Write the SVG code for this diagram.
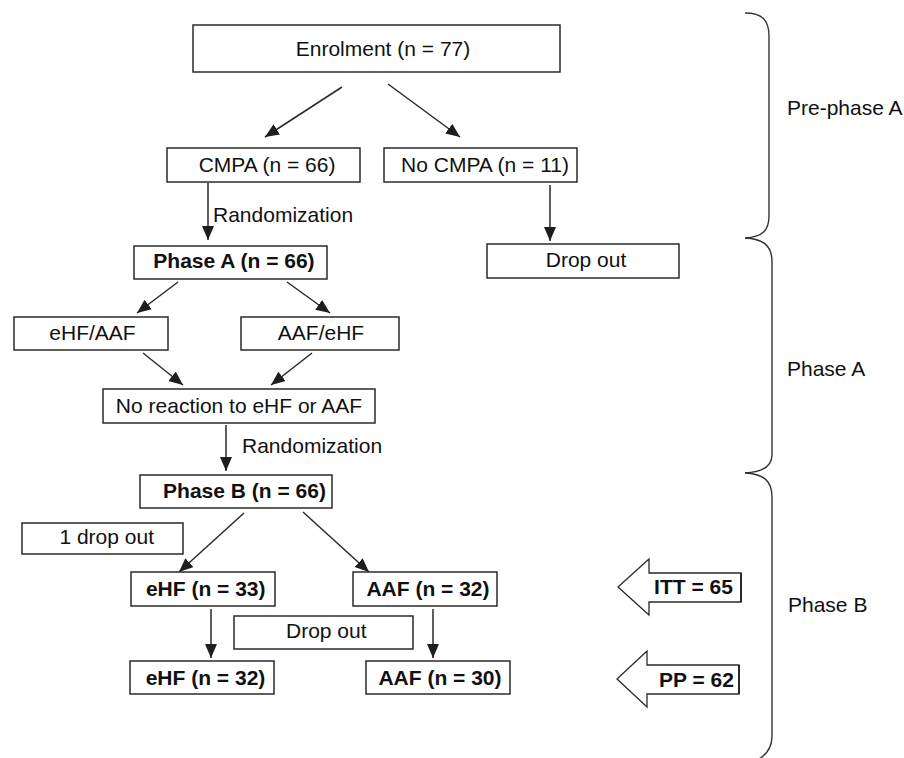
<svg xmlns="http://www.w3.org/2000/svg" width="904" height="758" viewBox="0 0 904 758">
<defs>
<style>
.box{fill:#fff;stroke:#2a2a2a;stroke-width:1.5}
.t{font-family:"Liberation Sans",Arial,Helvetica,sans-serif;font-size:21px;fill:#111;text-anchor:middle}
.b{font-weight:bold}
.s{text-anchor:start}
.ln{stroke:#2a2a2a;stroke-width:1.5;fill:none}
.br{stroke:#333;stroke-width:1.4;fill:none}
.fat{fill:#fff;stroke:#2a2a2a;stroke-width:1.3}
</style>
<marker id="ah" markerUnits="userSpaceOnUse" markerWidth="15" markerHeight="13" refX="14" refY="6" orient="auto">
<path d="M0,0 L14,6 L0,12 z" fill="#1e1e1e"/>
</marker>
</defs>
<rect width="904" height="758" fill="#fff"/>

<g id="connectors">
<line class="ln" x1="342" y1="87" x2="265" y2="137" marker-end="url(#ah)"/>
<line class="ln" x1="388" y1="84" x2="460" y2="137" marker-end="url(#ah)"/>
<line class="ln" x1="208" y1="183" x2="208" y2="240" marker-end="url(#ah)"/>
<line class="ln" x1="550" y1="185" x2="550" y2="241" marker-end="url(#ah)"/>
<line class="ln" x1="178" y1="282" x2="137" y2="313" marker-end="url(#ah)"/>
<line class="ln" x1="287" y1="282" x2="330" y2="313" marker-end="url(#ah)"/>
<line class="ln" x1="143" y1="353" x2="183" y2="385" marker-end="url(#ah)"/>
<line class="ln" x1="312" y1="353" x2="271" y2="385" marker-end="url(#ah)"/>
<line class="ln" x1="226" y1="425" x2="226" y2="471" marker-end="url(#ah)"/>
<line class="ln" x1="244" y1="513" x2="179" y2="572" marker-end="url(#ah)"/>
<line class="ln" x1="303" y1="512" x2="369" y2="572" marker-end="url(#ah)"/>
<line class="ln" x1="211" y1="609" x2="211" y2="658" marker-end="url(#ah)"/>
<line class="ln" x1="433" y1="609" x2="433" y2="658" marker-end="url(#ah)"/>
<text class="t s" x="213" y="222">Randomization</text>
<text class="t s" x="242" y="453">Randomization</text>
</g>

<g id="enrolment"><rect class="box" x="193" y="25" width="367" height="47"/><text class="t" x="383" y="56">Enrolment (n = 77)</text></g>
<g id="cmpa"><rect class="box" x="167" y="148" width="193" height="34"/><text class="t" x="267" y="172">CMPA (n = 66)</text></g>
<g id="nocmpa"><rect class="box" x="384" y="148" width="193" height="34"/><text class="t" x="485" y="172">No CMPA (n = 11)</text></g>
<g id="phaseA"><rect class="box" x="134" y="246" width="193" height="33"/><text class="t b" x="234" y="268">Phase A (n = 66)</text></g>
<g id="dropout1"><rect class="box" x="487" y="244" width="192" height="34"/><text class="t" x="586" y="267">Drop out</text></g>
<g id="ehfaaf"><rect class="box" x="14" y="317" width="154" height="33"/><text class="t" x="92.5" y="340">eHF/AAF</text></g>
<g id="aafehf"><rect class="box" x="241" y="317" width="158" height="33"/><text class="t" x="321" y="340">AAF/eHF</text></g>
<g id="noreaction"><rect class="box" x="103" y="389" width="272" height="34"/><text class="t" x="239" y="413">No reaction to eHF or AAF</text></g>
<g id="phaseB"><rect class="box" x="140" y="475" width="192" height="33"/><text class="t b" x="244.5" y="498">Phase B (n = 66)</text></g>
<g id="dropout2"><rect class="box" x="22" y="523" width="161" height="31"/><text class="t" x="106.7" y="544">1 drop out</text></g>
<g id="ehf33"><rect class="box" x="131" y="572" width="144" height="34"/><text class="t b" x="205.7" y="596">eHF (n = 33)</text></g>
<g id="aaf32"><rect class="box" x="353" y="572" width="144" height="34"/><text class="t b" x="428" y="596">AAF (n = 32)</text></g>
<g id="dropout3"><rect class="box" x="234" y="616" width="179" height="33"/><text class="t" x="326.3" y="638">Drop out</text></g>
<g id="ehf32"><rect class="box" x="130" y="661" width="144" height="33"/><text class="t b" x="205.5" y="685">eHF (n = 32)</text></g>
<g id="aaf30"><rect class="box" x="366" y="661" width="144" height="33"/><text class="t b" x="440" y="685">AAF (n = 30)</text></g>

<g id="itt"><path class="fat" d="M741,573 L649,573 L649,559 L618,587 L649,615 L649,602 L741,602 Z"/><line x1="741" y1="573" x2="741" y2="602" stroke="#2a2a2a" stroke-width="2"/><text class="t b" x="693.5" y="594">ITT = 65</text></g>
<g id="pp"><path class="fat" d="M739,665 L647,665 L647,651 L617,679 L647,707 L647,694 L739,694 Z"/><line x1="739" y1="665" x2="739" y2="694" stroke="#2a2a2a" stroke-width="2"/><text class="t b" x="696.5" y="687">PP = 62</text></g>

<g id="brace-prephaseA"><path class="br" d="M745,13 C762,13 769,20 769,36 L769,216 C769,231 762,237 745,238"/><text class="t s" x="787" y="115">Pre-phase A</text></g>
<g id="brace-phaseA"><path class="br" d="M745,238 C764,239 772,246 772,262 L772,455 C772,466 764,472 745,473"/><text class="t s" x="787" y="376">Phase A</text></g>
<g id="brace-phaseB"><path class="br" d="M745,473 C764,474 772,481 772,497 L772,736 C772,748 767,755 757,760"/><text class="t s" x="788" y="612">Phase B</text></g>
</svg>
